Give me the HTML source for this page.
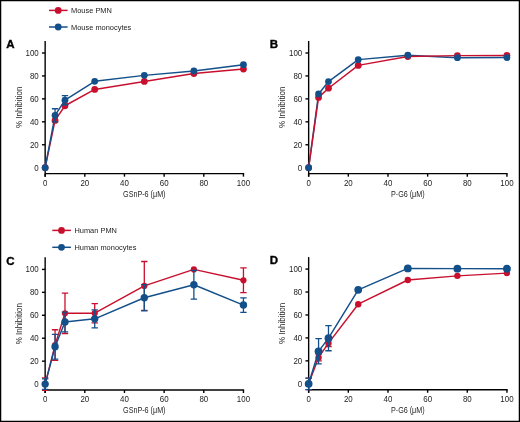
<!DOCTYPE html>
<html><head><meta charset="utf-8"><style>
html,body{margin:0;padding:0;background:#fff;}
body{width:520px;height:422px;overflow:hidden;}
svg{display:block;will-change:transform;}
text{font-family:"Liberation Sans", sans-serif;}
.tk{font-size:9px;fill:#1c1c1c;}
.ti{font-size:9px;fill:#262626;}
.lg{font-size:8px;fill:#222;}
.pl{font-size:11.5px;font-weight:bold;fill:#000;stroke:#000;stroke-width:0.35px;}
.yt{fill:#1e1e1e;}
</style></head><body>
<svg width="520" height="422" viewBox="0 0 520 422">
<rect x="0" y="0" width="520" height="422" fill="#fff"/>
<line x1="45.15" y1="40.96" x2="45.15" y2="176.65" stroke="#000" stroke-width="1.4"/>
<line x1="45.15" y1="173.65" x2="244.15" y2="173.65" stroke="#000" stroke-width="1.4"/>
<line x1="45.15" y1="173.65" x2="45.15" y2="176.65" stroke="#000" stroke-width="1.4"/>
<text transform="translate(45.15 185.75) scale(0.88 1)" text-anchor="middle" class="tk">0</text>
<line x1="41.95" y1="167.7" x2="45.15" y2="167.7" stroke="#000" stroke-width="1.4"/>
<text transform="translate(38.75 170.6) scale(0.88 1)" text-anchor="end" class="tk">0</text>
<line x1="84.81" y1="173.65" x2="84.81" y2="176.65" stroke="#000" stroke-width="1.4"/>
<text transform="translate(84.81 185.75) scale(0.88 1)" text-anchor="middle" class="tk">20</text>
<line x1="41.95" y1="144.76" x2="45.15" y2="144.76" stroke="#000" stroke-width="1.4"/>
<text transform="translate(38.75 147.66) scale(0.88 1)" text-anchor="end" class="tk">20</text>
<line x1="124.47" y1="173.65" x2="124.47" y2="176.65" stroke="#000" stroke-width="1.4"/>
<text transform="translate(124.47 185.75) scale(0.88 1)" text-anchor="middle" class="tk">40</text>
<line x1="41.95" y1="121.82" x2="45.15" y2="121.82" stroke="#000" stroke-width="1.4"/>
<text transform="translate(38.75 124.72) scale(0.88 1)" text-anchor="end" class="tk">40</text>
<line x1="164.13" y1="173.65" x2="164.13" y2="176.65" stroke="#000" stroke-width="1.4"/>
<text transform="translate(164.13 185.75) scale(0.88 1)" text-anchor="middle" class="tk">60</text>
<line x1="41.95" y1="98.88" x2="45.15" y2="98.88" stroke="#000" stroke-width="1.4"/>
<text transform="translate(38.75 101.78) scale(0.88 1)" text-anchor="end" class="tk">60</text>
<line x1="203.79" y1="173.65" x2="203.79" y2="176.65" stroke="#000" stroke-width="1.4"/>
<text transform="translate(203.79 185.75) scale(0.88 1)" text-anchor="middle" class="tk">80</text>
<line x1="41.95" y1="75.94" x2="45.15" y2="75.94" stroke="#000" stroke-width="1.4"/>
<text transform="translate(38.75 78.84) scale(0.88 1)" text-anchor="end" class="tk">80</text>
<line x1="243.45" y1="173.65" x2="243.45" y2="176.65" stroke="#000" stroke-width="1.4"/>
<text transform="translate(243.45 185.75) scale(0.88 1)" text-anchor="middle" class="tk">100</text>
<line x1="41.95" y1="53" x2="45.15" y2="53" stroke="#000" stroke-width="1.4"/>
<text transform="translate(38.75 55.9) scale(0.88 1)" text-anchor="end" class="tk">100</text>
<text transform="translate(144.3 196.85) scale(0.8 1)" text-anchor="middle" class="ti">GSnP-6 (μM)</text>
<text transform="translate(21.95 107.3) rotate(-90) scale(0.89 1)" text-anchor="middle" class="ti yt">% Inhibition</text>
<text x="6.35" y="47.86" class="pl">A</text>
<polyline points="45.15,167.7 55.06,120.44 64.98,105.76 94.72,89.47 144.3,81.45 193.88,73.53 243.45,69.06" fill="none" stroke="#c8102e" stroke-width="1.45" stroke-linejoin="round"/>
<circle cx="45.15" cy="167.7" r="3.4" fill="#c8102e"/>
<circle cx="55.06" cy="120.44" r="3.4" fill="#c8102e"/>
<circle cx="64.98" cy="105.76" r="3.4" fill="#c8102e"/>
<circle cx="94.72" cy="89.47" r="3.4" fill="#c8102e"/>
<circle cx="144.3" cy="81.45" r="3.4" fill="#c8102e"/>
<circle cx="193.88" cy="73.53" r="3.4" fill="#c8102e"/>
<circle cx="243.45" cy="69.06" r="3.4" fill="#c8102e"/>
<path d="M55.06 108.74V121.82M51.86 108.74h6.4M51.86 121.82h6.4" stroke="#13508a" stroke-width="1.3" fill="none"/>
<path d="M64.98 95.55V104.73M61.78 95.55h6.4M61.78 104.73h6.4" stroke="#13508a" stroke-width="1.3" fill="none"/>
<polyline points="45.15,167.7 55.06,115.28 64.98,100.14 94.72,81.33 144.3,75.37 193.88,71.01 243.45,64.7" fill="none" stroke="#13508a" stroke-width="1.45" stroke-linejoin="round"/>
<circle cx="45.15" cy="167.7" r="3.4" fill="#13508a"/>
<circle cx="55.06" cy="115.28" r="3.4" fill="#13508a"/>
<circle cx="64.98" cy="100.14" r="3.4" fill="#13508a"/>
<circle cx="94.72" cy="81.33" r="3.4" fill="#13508a"/>
<circle cx="144.3" cy="75.37" r="3.4" fill="#13508a"/>
<circle cx="193.88" cy="71.01" r="3.4" fill="#13508a"/>
<circle cx="243.45" cy="64.7" r="3.4" fill="#13508a"/>
<line x1="308.65" y1="40.96" x2="308.65" y2="176.65" stroke="#000" stroke-width="1.4"/>
<line x1="308.65" y1="173.65" x2="507.65" y2="173.65" stroke="#000" stroke-width="1.4"/>
<line x1="308.65" y1="173.65" x2="308.65" y2="176.65" stroke="#000" stroke-width="1.4"/>
<text transform="translate(308.65 185.75) scale(0.88 1)" text-anchor="middle" class="tk">0</text>
<line x1="305.45" y1="167.7" x2="308.65" y2="167.7" stroke="#000" stroke-width="1.4"/>
<text transform="translate(302.25 170.6) scale(0.88 1)" text-anchor="end" class="tk">0</text>
<line x1="348.31" y1="173.65" x2="348.31" y2="176.65" stroke="#000" stroke-width="1.4"/>
<text transform="translate(348.31 185.75) scale(0.88 1)" text-anchor="middle" class="tk">20</text>
<line x1="305.45" y1="144.76" x2="308.65" y2="144.76" stroke="#000" stroke-width="1.4"/>
<text transform="translate(302.25 147.66) scale(0.88 1)" text-anchor="end" class="tk">20</text>
<line x1="387.97" y1="173.65" x2="387.97" y2="176.65" stroke="#000" stroke-width="1.4"/>
<text transform="translate(387.97 185.75) scale(0.88 1)" text-anchor="middle" class="tk">40</text>
<line x1="305.45" y1="121.82" x2="308.65" y2="121.82" stroke="#000" stroke-width="1.4"/>
<text transform="translate(302.25 124.72) scale(0.88 1)" text-anchor="end" class="tk">40</text>
<line x1="427.63" y1="173.65" x2="427.63" y2="176.65" stroke="#000" stroke-width="1.4"/>
<text transform="translate(427.63 185.75) scale(0.88 1)" text-anchor="middle" class="tk">60</text>
<line x1="305.45" y1="98.88" x2="308.65" y2="98.88" stroke="#000" stroke-width="1.4"/>
<text transform="translate(302.25 101.78) scale(0.88 1)" text-anchor="end" class="tk">60</text>
<line x1="467.29" y1="173.65" x2="467.29" y2="176.65" stroke="#000" stroke-width="1.4"/>
<text transform="translate(467.29 185.75) scale(0.88 1)" text-anchor="middle" class="tk">80</text>
<line x1="305.45" y1="75.94" x2="308.65" y2="75.94" stroke="#000" stroke-width="1.4"/>
<text transform="translate(302.25 78.84) scale(0.88 1)" text-anchor="end" class="tk">80</text>
<line x1="506.95" y1="173.65" x2="506.95" y2="176.65" stroke="#000" stroke-width="1.4"/>
<text transform="translate(506.95 185.75) scale(0.88 1)" text-anchor="middle" class="tk">100</text>
<line x1="305.45" y1="53" x2="308.65" y2="53" stroke="#000" stroke-width="1.4"/>
<text transform="translate(302.25 55.9) scale(0.88 1)" text-anchor="end" class="tk">100</text>
<text transform="translate(407.8 196.85) scale(0.8 1)" text-anchor="middle" class="ti">P-G6 (μM)</text>
<text transform="translate(285.45 107.3) rotate(-90) scale(0.89 1)" text-anchor="middle" class="ti yt">% Inhibition</text>
<text x="269.85" y="47.86" class="pl">B</text>
<polyline points="308.65,167.7 318.56,93.95 328.48,81.56 358.22,59.65 407.8,55.18 457.38,57.7 506.95,57.59" fill="none" stroke="#13508a" stroke-width="1.45" stroke-linejoin="round"/>
<polyline points="308.65,167.7 318.56,97.39 328.48,88.21 358.22,65.39 407.8,56.56 457.38,55.64 506.95,55.41" fill="none" stroke="#c8102e" stroke-width="1.45" stroke-linejoin="round"/>
<circle cx="308.65" cy="167.7" r="3.4" fill="#c8102e"/>
<circle cx="318.56" cy="97.39" r="3.4" fill="#c8102e"/>
<circle cx="328.48" cy="88.21" r="3.4" fill="#c8102e"/>
<circle cx="358.22" cy="65.39" r="3.4" fill="#c8102e"/>
<circle cx="407.8" cy="56.56" r="3.4" fill="#c8102e"/>
<circle cx="457.38" cy="55.64" r="3.4" fill="#c8102e"/>
<circle cx="506.95" cy="55.41" r="3.4" fill="#c8102e"/>
<circle cx="308.65" cy="167.7" r="3.4" fill="#13508a"/>
<circle cx="318.56" cy="93.95" r="3.4" fill="#13508a"/>
<circle cx="328.48" cy="81.56" r="3.4" fill="#13508a"/>
<circle cx="358.22" cy="59.65" r="3.4" fill="#13508a"/>
<circle cx="407.8" cy="55.18" r="3.4" fill="#13508a"/>
<circle cx="457.38" cy="57.7" r="3.4" fill="#13508a"/>
<circle cx="506.95" cy="57.59" r="3.4" fill="#13508a"/>
<line x1="45.15" y1="257.36" x2="45.15" y2="393.05" stroke="#000" stroke-width="1.4"/>
<line x1="45.15" y1="390.05" x2="244.15" y2="390.05" stroke="#000" stroke-width="1.4"/>
<line x1="45.15" y1="390.05" x2="45.15" y2="393.05" stroke="#000" stroke-width="1.4"/>
<text transform="translate(45.15 402.15) scale(0.88 1)" text-anchor="middle" class="tk">0</text>
<line x1="41.95" y1="384.1" x2="45.15" y2="384.1" stroke="#000" stroke-width="1.4"/>
<text transform="translate(38.75 387) scale(0.88 1)" text-anchor="end" class="tk">0</text>
<line x1="84.81" y1="390.05" x2="84.81" y2="393.05" stroke="#000" stroke-width="1.4"/>
<text transform="translate(84.81 402.15) scale(0.88 1)" text-anchor="middle" class="tk">20</text>
<line x1="41.95" y1="361.16" x2="45.15" y2="361.16" stroke="#000" stroke-width="1.4"/>
<text transform="translate(38.75 364.06) scale(0.88 1)" text-anchor="end" class="tk">20</text>
<line x1="124.47" y1="390.05" x2="124.47" y2="393.05" stroke="#000" stroke-width="1.4"/>
<text transform="translate(124.47 402.15) scale(0.88 1)" text-anchor="middle" class="tk">40</text>
<line x1="41.95" y1="338.22" x2="45.15" y2="338.22" stroke="#000" stroke-width="1.4"/>
<text transform="translate(38.75 341.12) scale(0.88 1)" text-anchor="end" class="tk">40</text>
<line x1="164.13" y1="390.05" x2="164.13" y2="393.05" stroke="#000" stroke-width="1.4"/>
<text transform="translate(164.13 402.15) scale(0.88 1)" text-anchor="middle" class="tk">60</text>
<line x1="41.95" y1="315.28" x2="45.15" y2="315.28" stroke="#000" stroke-width="1.4"/>
<text transform="translate(38.75 318.18) scale(0.88 1)" text-anchor="end" class="tk">60</text>
<line x1="203.79" y1="390.05" x2="203.79" y2="393.05" stroke="#000" stroke-width="1.4"/>
<text transform="translate(203.79 402.15) scale(0.88 1)" text-anchor="middle" class="tk">80</text>
<line x1="41.95" y1="292.34" x2="45.15" y2="292.34" stroke="#000" stroke-width="1.4"/>
<text transform="translate(38.75 295.24) scale(0.88 1)" text-anchor="end" class="tk">80</text>
<line x1="243.45" y1="390.05" x2="243.45" y2="393.05" stroke="#000" stroke-width="1.4"/>
<text transform="translate(243.45 402.15) scale(0.88 1)" text-anchor="middle" class="tk">100</text>
<line x1="41.95" y1="269.4" x2="45.15" y2="269.4" stroke="#000" stroke-width="1.4"/>
<text transform="translate(38.75 272.3) scale(0.88 1)" text-anchor="end" class="tk">100</text>
<text transform="translate(144.3 413.25) scale(0.8 1)" text-anchor="middle" class="ti">GSnP-6 (μM)</text>
<text transform="translate(21.95 323.7) rotate(-90) scale(0.89 1)" text-anchor="middle" class="ti yt">% Inhibition</text>
<text x="6.35" y="264.66" class="pl">C</text>
<path d="M45.15 377.91V390.29M41.95 377.91h6.4M41.95 390.29h6.4" stroke="#c8102e" stroke-width="1.3" fill="none"/>
<path d="M55.06 329.73V360.47M51.86 329.73h6.4M51.86 360.47h6.4" stroke="#c8102e" stroke-width="1.3" fill="none"/>
<path d="M64.98 293.14V333.52M61.78 293.14h6.4M61.78 333.52h6.4" stroke="#c8102e" stroke-width="1.3" fill="none"/>
<path d="M94.72 303.58V322.85M91.52 303.58h6.4M91.52 322.85h6.4" stroke="#c8102e" stroke-width="1.3" fill="none"/>
<path d="M144.3 261.49V310.35M141.1 261.49h6.4M141.1 310.35h6.4" stroke="#c8102e" stroke-width="1.3" fill="none"/>
<path d="M243.45 267.91V292.68M240.25 267.91h6.4M240.25 292.68h6.4" stroke="#c8102e" stroke-width="1.3" fill="none"/>
<polyline points="45.15,384.1 55.06,345.1 64.98,313.33 94.72,313.22 144.3,285.92 193.88,269.4 243.45,280.3" fill="none" stroke="#c8102e" stroke-width="1.45" stroke-linejoin="round"/>
<circle cx="45.15" cy="384.1" r="3.1" fill="#c8102e"/>
<circle cx="55.06" cy="345.1" r="3.1" fill="#c8102e"/>
<circle cx="64.98" cy="313.33" r="3.1" fill="#c8102e"/>
<circle cx="94.72" cy="313.22" r="3.1" fill="#c8102e"/>
<circle cx="144.3" cy="285.92" r="3.1" fill="#c8102e"/>
<circle cx="193.88" cy="269.4" r="3.1" fill="#c8102e"/>
<circle cx="243.45" cy="280.3" r="3.1" fill="#c8102e"/>
<path d="M45.15 378.82V389.38M41.95 378.82h6.4M41.95 389.38h6.4" stroke="#13508a" stroke-width="1.3" fill="none"/>
<path d="M55.06 334.32V359.1M51.86 334.32h6.4M51.86 359.1h6.4" stroke="#13508a" stroke-width="1.3" fill="none"/>
<path d="M64.98 312.07V331.8M61.78 312.07h6.4M61.78 331.8h6.4" stroke="#13508a" stroke-width="1.3" fill="none"/>
<path d="M94.72 309.89V327.78M91.52 309.89h6.4M91.52 327.78h6.4" stroke="#13508a" stroke-width="1.3" fill="none"/>
<path d="M144.3 284.54V310.92M141.1 284.54h6.4M141.1 310.92h6.4" stroke="#13508a" stroke-width="1.3" fill="none"/>
<path d="M193.88 270.43V299.11M190.68 270.43h6.4M190.68 299.11h6.4" stroke="#13508a" stroke-width="1.3" fill="none"/>
<path d="M243.45 297.85V312.3M240.25 297.85h6.4M240.25 312.3h6.4" stroke="#13508a" stroke-width="1.3" fill="none"/>
<polyline points="45.15,384.1 55.06,346.71 64.98,321.93 94.72,318.84 144.3,297.73 193.88,284.77 243.45,305.07" fill="none" stroke="#13508a" stroke-width="1.45" stroke-linejoin="round"/>
<circle cx="45.15" cy="384.1" r="3.7" fill="#13508a"/>
<circle cx="55.06" cy="346.71" r="3.7" fill="#13508a"/>
<circle cx="64.98" cy="321.93" r="3.7" fill="#13508a"/>
<circle cx="94.72" cy="318.84" r="3.7" fill="#13508a"/>
<circle cx="144.3" cy="297.73" r="3.7" fill="#13508a"/>
<circle cx="193.88" cy="284.77" r="3.7" fill="#13508a"/>
<circle cx="243.45" cy="305.07" r="3.7" fill="#13508a"/>
<line x1="308.65" y1="257.06" x2="308.65" y2="392.75" stroke="#000" stroke-width="1.4"/>
<line x1="308.65" y1="389.75" x2="507.65" y2="389.75" stroke="#000" stroke-width="1.4"/>
<line x1="308.65" y1="389.75" x2="308.65" y2="392.75" stroke="#000" stroke-width="1.4"/>
<text transform="translate(308.65 401.85) scale(0.88 1)" text-anchor="middle" class="tk">0</text>
<line x1="305.45" y1="383.8" x2="308.65" y2="383.8" stroke="#000" stroke-width="1.4"/>
<text transform="translate(302.25 386.7) scale(0.88 1)" text-anchor="end" class="tk">0</text>
<line x1="348.31" y1="389.75" x2="348.31" y2="392.75" stroke="#000" stroke-width="1.4"/>
<text transform="translate(348.31 401.85) scale(0.88 1)" text-anchor="middle" class="tk">20</text>
<line x1="305.45" y1="360.86" x2="308.65" y2="360.86" stroke="#000" stroke-width="1.4"/>
<text transform="translate(302.25 363.76) scale(0.88 1)" text-anchor="end" class="tk">20</text>
<line x1="387.97" y1="389.75" x2="387.97" y2="392.75" stroke="#000" stroke-width="1.4"/>
<text transform="translate(387.97 401.85) scale(0.88 1)" text-anchor="middle" class="tk">40</text>
<line x1="305.45" y1="337.92" x2="308.65" y2="337.92" stroke="#000" stroke-width="1.4"/>
<text transform="translate(302.25 340.82) scale(0.88 1)" text-anchor="end" class="tk">40</text>
<line x1="427.63" y1="389.75" x2="427.63" y2="392.75" stroke="#000" stroke-width="1.4"/>
<text transform="translate(427.63 401.85) scale(0.88 1)" text-anchor="middle" class="tk">60</text>
<line x1="305.45" y1="314.98" x2="308.65" y2="314.98" stroke="#000" stroke-width="1.4"/>
<text transform="translate(302.25 317.88) scale(0.88 1)" text-anchor="end" class="tk">60</text>
<line x1="467.29" y1="389.75" x2="467.29" y2="392.75" stroke="#000" stroke-width="1.4"/>
<text transform="translate(467.29 401.85) scale(0.88 1)" text-anchor="middle" class="tk">80</text>
<line x1="305.45" y1="292.04" x2="308.65" y2="292.04" stroke="#000" stroke-width="1.4"/>
<text transform="translate(302.25 294.94) scale(0.88 1)" text-anchor="end" class="tk">80</text>
<line x1="506.95" y1="389.75" x2="506.95" y2="392.75" stroke="#000" stroke-width="1.4"/>
<text transform="translate(506.95 401.85) scale(0.88 1)" text-anchor="middle" class="tk">100</text>
<line x1="305.45" y1="269.1" x2="308.65" y2="269.1" stroke="#000" stroke-width="1.4"/>
<text transform="translate(302.25 272) scale(0.88 1)" text-anchor="end" class="tk">100</text>
<text transform="translate(407.8 412.95) scale(0.8 1)" text-anchor="middle" class="ti">P-G6 (μM)</text>
<text transform="translate(285.45 323.4) rotate(-90) scale(0.89 1)" text-anchor="middle" class="ti yt">% Inhibition</text>
<text x="269.85" y="264.36" class="pl">D</text>
<path d="M308.65 378.06V389.54M305.45 378.06h6.4M305.45 389.54h6.4" stroke="#c8102e" stroke-width="1.3" fill="none"/>
<path d="M318.56 353.98V360.86M315.37 353.98h6.4M315.37 360.86h6.4" stroke="#c8102e" stroke-width="1.3" fill="none"/>
<path d="M328.48 339.64V346.52M325.28 339.64h6.4M325.28 346.52h6.4" stroke="#c8102e" stroke-width="1.3" fill="none"/>
<polyline points="308.65,383.8 318.56,357.42 328.48,343.08 358.22,304.2 407.8,280 457.38,275.87 506.95,273.11" fill="none" stroke="#c8102e" stroke-width="1.45" stroke-linejoin="round"/>
<circle cx="308.65" cy="383.8" r="3.2" fill="#c8102e"/>
<circle cx="318.56" cy="357.42" r="3.2" fill="#c8102e"/>
<circle cx="328.48" cy="343.08" r="3.2" fill="#c8102e"/>
<circle cx="358.22" cy="304.2" r="3.2" fill="#c8102e"/>
<circle cx="407.8" cy="280" r="3.2" fill="#c8102e"/>
<circle cx="457.38" cy="275.87" r="3.2" fill="#c8102e"/>
<circle cx="506.95" cy="273.11" r="3.2" fill="#c8102e"/>
<path d="M308.65 378.06V389.54M305.45 378.06h6.4M305.45 389.54h6.4" stroke="#13508a" stroke-width="1.3" fill="none"/>
<path d="M318.56 338.72V363.96M315.37 338.72h6.4M315.37 363.96h6.4" stroke="#13508a" stroke-width="1.3" fill="none"/>
<path d="M328.48 325.53V350.77M325.28 325.53h6.4M325.28 350.77h6.4" stroke="#13508a" stroke-width="1.3" fill="none"/>
<polyline points="308.65,383.8 318.56,351.34 328.48,338.15 358.22,289.86 407.8,268.41 457.38,268.64 506.95,268.76" fill="none" stroke="#13508a" stroke-width="1.45" stroke-linejoin="round"/>
<circle cx="308.65" cy="383.8" r="3.9" fill="#13508a"/>
<circle cx="318.56" cy="351.34" r="3.9" fill="#13508a"/>
<circle cx="328.48" cy="338.15" r="3.9" fill="#13508a"/>
<circle cx="358.22" cy="289.86" r="3.9" fill="#13508a"/>
<circle cx="407.8" cy="268.41" r="3.9" fill="#13508a"/>
<circle cx="457.38" cy="268.64" r="3.9" fill="#13508a"/>
<circle cx="506.95" cy="268.76" r="3.9" fill="#13508a"/>
<line x1="49" y1="10.4" x2="67.6" y2="10.4" stroke="#c8102e" stroke-width="1.5"/>
<circle cx="58.2" cy="10.4" r="3.4" fill="#c8102e"/>
<text transform="translate(71 13.1) scale(0.93 1)" class="lg">Mouse PMN</text>
<line x1="49" y1="27" x2="67.6" y2="27" stroke="#13508a" stroke-width="1.5"/>
<circle cx="58.2" cy="27" r="3.4" fill="#13508a"/>
<text transform="translate(71 29.7) scale(0.93 1)" class="lg">Mouse monocytes</text>
<line x1="52.3" y1="230.4" x2="70.9" y2="230.4" stroke="#c8102e" stroke-width="1.5"/>
<circle cx="61.5" cy="230.4" r="3.4" fill="#c8102e"/>
<text transform="translate(74.4 233.1) scale(0.93 1)" class="lg">Human PMN</text>
<line x1="52.3" y1="247.3" x2="70.9" y2="247.3" stroke="#13508a" stroke-width="1.5"/>
<circle cx="61.5" cy="247.3" r="3.4" fill="#13508a"/>
<text transform="translate(74.4 250) scale(0.93 1)" class="lg">Human monocytes</text>
<rect x="0.6" y="0.6" width="518.8" height="420.8" fill="none" stroke="#000" stroke-width="1.3"/>
</svg>
</body></html>
